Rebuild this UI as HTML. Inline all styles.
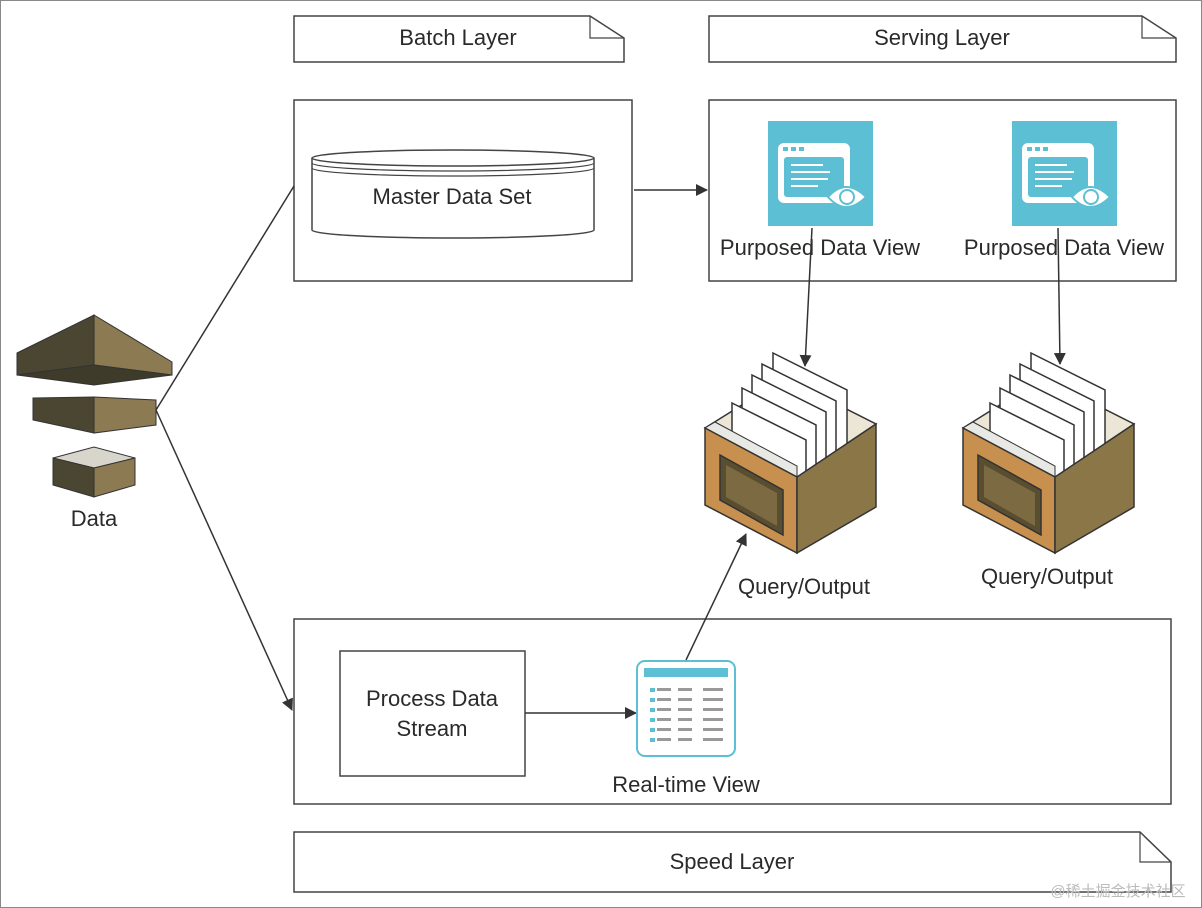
<!DOCTYPE html>
<html><head><meta charset="utf-8"><style>
html,body{margin:0;padding:0;background:#fff;}
svg{display:block;font-family:"Liberation Sans",sans-serif;}
text{font-size:22px;fill:#2a2a2a;text-anchor:middle;}
</style></head><body>
<svg width="1202" height="908" viewBox="0 0 1202 908" xmlns="http://www.w3.org/2000/svg">
<defs>
<marker id="ah" markerWidth="12" markerHeight="12" refX="11" refY="6" orient="auto" markerUnits="userSpaceOnUse">
<path d="M0,0 L12,6 L0,12 Z" fill="#333"/></marker>
<g id="filebox">
<polygon points="705,428 785,378 876,424 797,477" fill="#ece6d6" stroke="#333" stroke-width="1.5"/>
<g fill="#fff" stroke="#333" stroke-width="1.5">
<polygon points="773,353 847,390 847,470 773,433"/>
<polygon points="762,364 836,401 836,476 762,440"/>
<polygon points="752,375 826,412 826,482 752,448"/>
<polygon points="742,388 816,425 816,486 742,455"/>
<polygon points="732,403 806,440 806,490 732,460"/>
</g>
<polygon points="705,428 715,422 797,466 797,477" fill="#e8e8e4" stroke="#333" stroke-width="1"/>
<polygon points="705,428 797,477 797,553 705,505" fill="#c8904e" stroke="#333" stroke-width="1.5"/>
<polygon points="797,477 876,424 876,507 797,553" fill="#8b7648" stroke="#333" stroke-width="1.5"/>
<polygon points="720,455 783,490 783,535 720,500" fill="#5a4e30" stroke="#333" stroke-width="1.5"/>
<polygon points="726,465 777,493 777,526 726,497" fill="#7c6a42"/>
</g>
<g id="eye">
<rect x="0" y="0" width="105" height="105" fill="#5cbfd3"/>
<rect x="10" y="22" width="72" height="60" rx="6" fill="#fff"/>
<rect x="16" y="36" width="60" height="40" rx="3" fill="#5cbfd3"/>
<rect x="15" y="26" width="5" height="4" fill="#5cbfd3"/><rect x="23" y="26" width="5" height="4" fill="#5cbfd3"/><rect x="31" y="26" width="5" height="4" fill="#5cbfd3"/>
<g stroke="#fff" stroke-width="2"><line x1="23" y1="44" x2="55" y2="44"/><line x1="23" y1="51" x2="62" y2="51"/><line x1="23" y1="58" x2="60" y2="58"/><line x1="23" y1="65" x2="50" y2="65"/></g>
<path d="M60,76 Q78,56 98,76 Q78,96 60,76 Z" fill="#fff" stroke="#5cbfd3" stroke-width="2"/>
<circle cx="79" cy="76" r="7" fill="#fff" stroke="#5cbfd3" stroke-width="2"/>
</g>
</defs>
<rect x="0.5" y="0.5" width="1201" height="907" fill="none" stroke="#888" stroke-width="1"/>

<path d="M294,16 H590 L624,38 V62 H294 Z" fill="#fff" stroke="#444" stroke-width="1.5"/>
<path d="M590,16 V38 H624" fill="none" stroke="#444" stroke-width="1.2"/>
<text x="458" y="45">Batch Layer</text>
<path d="M709,16 H1142 L1176,38 V62 H709 Z" fill="#fff" stroke="#444" stroke-width="1.5"/>
<path d="M1142,16 V38 H1176" fill="none" stroke="#444" stroke-width="1.2"/>
<text x="942" y="45">Serving Layer</text>
<path d="M294,832 H1140 L1171,862 V892 H294 Z" fill="#fff" stroke="#444" stroke-width="1.5"/>
<path d="M1140,832 V862 H1171" fill="none" stroke="#444" stroke-width="1.2"/>
<text x="732" y="869">Speed Layer</text>

<rect x="294" y="100" width="338" height="181" fill="#fff" stroke="#444" stroke-width="1.5"/>
<path d="M312,158 V230 A141,8 0 0 0 594,230 V158" fill="#fff" stroke="#444" stroke-width="1.5"/>
<ellipse cx="453" cy="158" rx="141" ry="8" fill="#fff" stroke="#444" stroke-width="1.5"/>
<path d="M312,163 A141,8 0 0 0 594,163 M312,168 A141,8 0 0 0 594,168" fill="none" stroke="#444" stroke-width="1.2"/>
<text x="452" y="204">Master Data Set</text>

<rect x="709" y="100" width="467" height="181" fill="#fff" stroke="#444" stroke-width="1.5"/>
<use href="#eye" transform="translate(768,121)"/>
<use href="#eye" transform="translate(1012,121)"/>
<text x="820" y="255">Purposed Data View</text>
<text x="1064" y="255">Purposed Data View</text>

<line x1="634" y1="190" x2="707" y2="190" stroke="#333" stroke-width="1.5" marker-end="url(#ah)"/>
<line x1="812" y1="228" x2="805" y2="366" stroke="#333" stroke-width="1.5" marker-end="url(#ah)"/>
<line x1="1058" y1="228" x2="1060" y2="364" stroke="#333" stroke-width="1.5" marker-end="url(#ah)"/>

<use href="#filebox"/>
<use href="#filebox" transform="translate(258,0)"/>
<text x="804" y="594">Query/Output</text>
<text x="1047" y="584">Query/Output</text>

<rect x="294" y="619" width="877" height="185" fill="#fff" stroke="#444" stroke-width="1.5"/>
<rect x="340" y="651" width="185" height="125" fill="#fff" stroke="#444" stroke-width="1.5"/>
<text x="432" y="706">Process Data</text>
<text x="432" y="736">Stream</text>
<line x1="525" y1="713" x2="636" y2="713" stroke="#333" stroke-width="1.5" marker-end="url(#ah)"/>
<rect x="637" y="661" width="98" height="95" rx="8" fill="#fff" stroke="#5cbfd3" stroke-width="2"/>
<rect x="644" y="668" width="84" height="9" fill="#5cbfd3"/>
<g fill="#999">
<rect x="650" y="688" width="5" height="4" fill="#5cbfd3"/><rect x="657" y="688" width="14" height="3"/><rect x="678" y="688" width="14" height="3"/><rect x="703" y="688" width="20" height="3"/>
<rect x="650" y="698" width="5" height="4" fill="#5cbfd3"/><rect x="657" y="698" width="14" height="3"/><rect x="678" y="698" width="14" height="3"/><rect x="703" y="698" width="20" height="3"/>
<rect x="650" y="708" width="5" height="4" fill="#5cbfd3"/><rect x="657" y="708" width="14" height="3"/><rect x="678" y="708" width="14" height="3"/><rect x="703" y="708" width="20" height="3"/>
<rect x="650" y="718" width="5" height="4" fill="#5cbfd3"/><rect x="657" y="718" width="14" height="3"/><rect x="678" y="718" width="14" height="3"/><rect x="703" y="718" width="20" height="3"/>
<rect x="650" y="728" width="5" height="4" fill="#5cbfd3"/><rect x="657" y="728" width="14" height="3"/><rect x="678" y="728" width="14" height="3"/><rect x="703" y="728" width="20" height="3"/>
<rect x="650" y="738" width="5" height="4" fill="#5cbfd3"/><rect x="657" y="738" width="14" height="3"/><rect x="678" y="738" width="14" height="3"/><rect x="703" y="738" width="20" height="3"/>
</g>
<text x="686" y="792">Real-time View</text>
<line x1="686" y1="660" x2="746" y2="534" stroke="#333" stroke-width="1.5" marker-end="url(#ah)"/>

<polygon points="17,353 94,315 94,365 17,375" fill="#4a4632" stroke="#333"/>
<polygon points="94,315 172,362 172,375 94,365" fill="#8b7a52" stroke="#333"/>
<polygon points="17,375 94,365 172,375 94,385" fill="#3e3b2a" stroke="#333"/>
<polygon points="33,398 94,397 94,433 33,420" fill="#4a4632" stroke="#333"/>
<polygon points="94,397 156,400 156,425 94,433" fill="#8b7a52" stroke="#333"/>
<polygon points="53,458 94,447 135,458 94,468" fill="#d8d6cc" stroke="#333"/>
<polygon points="53,458 94,468 94,497 53,485" fill="#4a4632" stroke="#333"/>
<polygon points="94,468 135,458 135,485 94,497" fill="#8b7a52" stroke="#333"/>
<text x="94" y="526">Data</text>
<line x1="156" y1="410" x2="294" y2="186" stroke="#333" stroke-width="1.5"/>
<line x1="156" y1="410" x2="292" y2="710" stroke="#333" stroke-width="1.5" marker-end="url(#ah)"/>

<text x="1118" y="896" style="font-size:15px;fill:#bbb;font-family:'Liberation Sans','Noto Sans CJK SC',sans-serif">@稀土掘金技术社区</text>
</svg>
</body></html>
